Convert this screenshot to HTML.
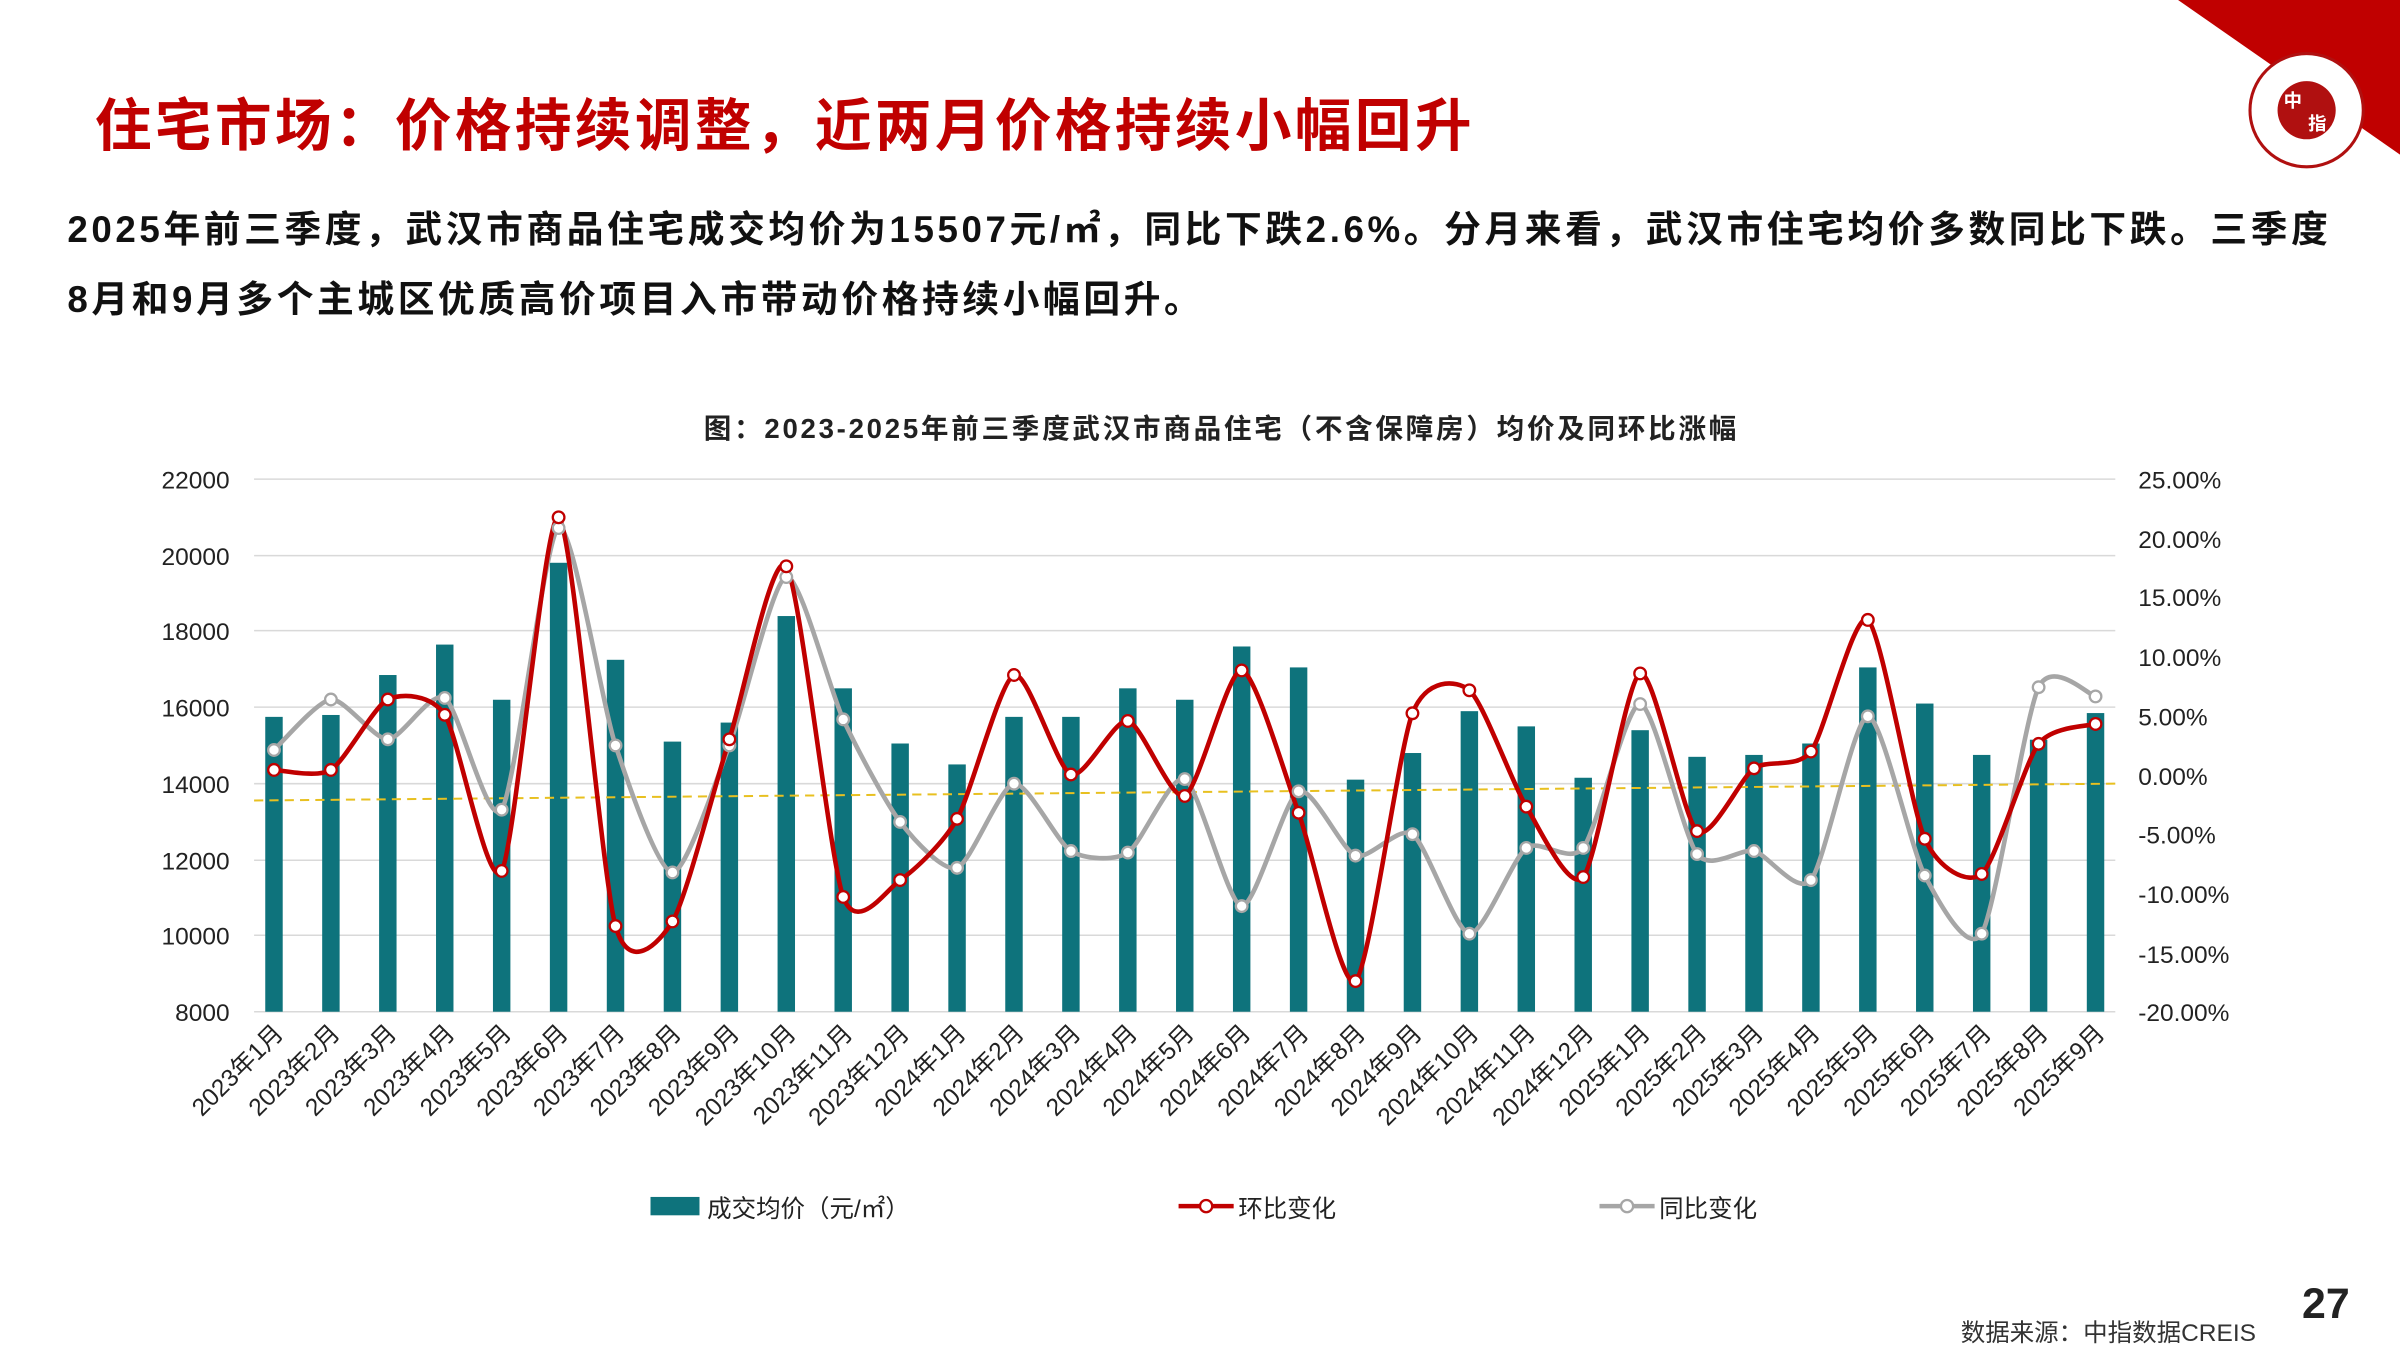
<!DOCTYPE html>
<html><head><meta charset="utf-8"><style>
html,body{margin:0;padding:0;background:#fff;overflow:hidden;}
#w{width:1568px;height:882px;position:relative;transform:scale(1.530612);transform-origin:0 0;font-family:"Liberation Sans","Noto Sans CJK SC",sans-serif;}
.t{position:absolute;white-space:nowrap;}
</style></head><body><div id="w">
<svg width="1568" height="882" style="position:absolute;left:0;top:0" font-family="Liberation Sans, Noto Sans CJK SC, sans-serif">
<polygon points="1423,0 1568,0 1568,101" fill="#c00000"/>
<circle cx="1507" cy="72" r="37" fill="#fff" stroke="#b01010" stroke-width="2"/>
<circle cx="1507" cy="72" r="19" fill="#b01010"/>
<text x="1498" y="70" font-size="12" fill="#fff" text-anchor="middle" font-weight="bold">中</text>
<text x="1514" y="85" font-size="12" fill="#fff" text-anchor="middle" font-weight="bold">指</text>
<g stroke="#d9d9d9" stroke-width="1">
<line x1="166" y1="313" x2="1382" y2="313"/><line x1="166" y1="363" x2="1382" y2="363"/>
<line x1="166" y1="412" x2="1382" y2="412"/><line x1="166" y1="462" x2="1382" y2="462"/>
<line x1="166" y1="512" x2="1382" y2="512"/><line x1="166" y1="562" x2="1382" y2="562"/>
<line x1="166" y1="611" x2="1382" y2="611"/><line x1="166" y1="661" x2="1382" y2="661"/>
</g>
<g font-size="16" fill="#222" text-anchor="end">
<text x="150" y="319">22000</text><text x="150" y="369">20000</text><text x="150" y="418">18000</text>
<text x="150" y="468">16000</text><text x="150" y="518">14000</text><text x="150" y="568">12000</text>
<text x="150" y="617">10000</text><text x="150" y="667">8000</text>
</g>
<g font-size="16" fill="#222">
<text x="1397" y="319">25.00%</text><text x="1397" y="358">20.00%</text><text x="1397" y="396">15.00%</text>
<text x="1397" y="435">10.00%</text><text x="1397" y="474">5.00%</text><text x="1397" y="513">0.00%</text>
<text x="1397" y="551">-5.00%</text><text x="1397" y="590">-10.00%</text><text x="1397" y="629">-15.00%</text>
<text x="1397" y="667">-20.00%</text>
</g>
<g id="bars" fill="#0e737c"></g>
<line x1="166" y1="523" x2="1382" y2="512" stroke="#e8c020" stroke-width="1.3" stroke-dasharray="6,4"/>
<path id="gp" fill="none" stroke="#a6a6a6" stroke-width="3"/>
<path id="rp" fill="none" stroke="#c00000" stroke-width="3"/>
<g id="gm" fill="#fff" stroke="#a6a6a6" stroke-width="1.5"></g>
<g id="rm" fill="#fff" stroke="#c00000" stroke-width="1.5"></g>
<g font-size="16" fill="#222" text-anchor="end" id="xl">
<text transform="translate(186,676) rotate(-45)">2023年1月</text>
<text transform="translate(223,676) rotate(-45)">2023年2月</text>
<text transform="translate(260,676) rotate(-45)">2023年3月</text>
<text transform="translate(298,676) rotate(-45)">2023年4月</text>
<text transform="translate(335,676) rotate(-45)">2023年5月</text>
<text transform="translate(372,676) rotate(-45)">2023年6月</text>
<text transform="translate(409,676) rotate(-45)">2023年7月</text>
<text transform="translate(446,676) rotate(-45)">2023年8月</text>
<text transform="translate(484,676) rotate(-45)">2023年9月</text>
<text transform="translate(521,676) rotate(-45)">2023年10月</text>
<text transform="translate(558,676) rotate(-45)">2023年11月</text>
<text transform="translate(595,676) rotate(-45)">2023年12月</text>
<text transform="translate(632,676) rotate(-45)">2024年1月</text>
<text transform="translate(670,676) rotate(-45)">2024年2月</text>
<text transform="translate(707,676) rotate(-45)">2024年3月</text>
<text transform="translate(744,676) rotate(-45)">2024年4月</text>
<text transform="translate(781,676) rotate(-45)">2024年5月</text>
<text transform="translate(818,676) rotate(-45)">2024年6月</text>
<text transform="translate(856,676) rotate(-45)">2024年7月</text>
<text transform="translate(893,676) rotate(-45)">2024年8月</text>
<text transform="translate(930,676) rotate(-45)">2024年9月</text>
<text transform="translate(967,676) rotate(-45)">2024年10月</text>
<text transform="translate(1004,676) rotate(-45)">2024年11月</text>
<text transform="translate(1042,676) rotate(-45)">2024年12月</text>
<text transform="translate(1079,676) rotate(-45)">2025年1月</text>
<text transform="translate(1116,676) rotate(-45)">2025年2月</text>
<text transform="translate(1153,676) rotate(-45)">2025年3月</text>
<text transform="translate(1190,676) rotate(-45)">2025年4月</text>
<text transform="translate(1228,676) rotate(-45)">2025年5月</text>
<text transform="translate(1265,676) rotate(-45)">2025年6月</text>
<text transform="translate(1302,676) rotate(-45)">2025年7月</text>
<text transform="translate(1339,676) rotate(-45)">2025年8月</text>
<text transform="translate(1376,676) rotate(-45)">2025年9月</text>
</g>
<rect x="425" y="782" width="32" height="12" fill="#0e737c"/>
<text x="462" y="795" font-size="16" fill="#222">成交均价（元/㎡）</text>
<line x1="770" y1="788" x2="806" y2="788" stroke="#c00000" stroke-width="3"/><circle cx="788" cy="788" r="4" fill="#fff" stroke="#c00000" stroke-width="1.5"/>
<text x="809" y="795" font-size="16" fill="#222">环比变化</text>
<line x1="1045" y1="788" x2="1081" y2="788" stroke="#a6a6a6" stroke-width="3"/><circle cx="1063" cy="788" r="4" fill="#fff" stroke="#a6a6a6" stroke-width="1.5"/>
<text x="1084" y="795" font-size="16" fill="#222">同比变化</text>
<text x="798" y="286" font-size="18" font-weight="bold" fill="#222" text-anchor="middle" letter-spacing="1.8">图：2023-2025年前三季度武汉市商品住宅（不含保障房）均价及同环比涨幅</text>
</svg>
<div class="t" style="left:62px;top:52px;font-size:37px;font-weight:bold;color:#c00000;letter-spacing:2.2px;">住宅市场：价格持续调整，近两月价格持续小幅回升</div>
<div class="t" style="left:44px;top:128px;font-size:24px;font-weight:bold;color:#111;line-height:46px;letter-spacing:2.35px;">2025年前三季度，武汉市商品住宅成交均价为15507元/㎡，同比下跌2.6%。分月来看，武汉市住宅均价多数同比下跌。三季度<br>8月和9月多个主城区优质高价项目入市带动价格持续小幅回升。</div>
<div class="t" style="left:1281px;top:857px;font-size:16px;color:#333;">数据来源：中指数据CREIS</div>
<div class="t" style="left:1504px;top:836px;font-size:28px;font-weight:bold;color:#222;">27</div>
</div>
<script>
var bv=[15750,15800,16850,17650,16200,19800,17250,15100,15600,18400,16500,15050,14500,15750,15750,16500,16200,17600,17050,14100,14800,15900,15500,14150,15400,14700,14750,15050,17050,16100,14750,15150,15850];
var ry=[503,503,457,467,569,338,605,602,483,370,586,575,535,441,506,471,520,438,531,641,466,451,527,573,440,543,502,491,405,548,571,486,473];
var gy=[490,457,483,456,529,345,487,570,487,377,470,537,567,512,556,557,509,592,517,559,545,610,554,554,460,558,556,575,468,572,610,449,455];
var ns="http://www.w3.org/2000/svg";
function X(i){return 179+i*37.19;}
function Y(v){return 661-(v-8000)*348/14000;}
var b=document.getElementById('bars');
bv.forEach(function(v,i){var r=document.createElementNS(ns,'rect');r.setAttribute('x',X(i)-5.7);r.setAttribute('y',Y(v));r.setAttribute('width',11.4);r.setAttribute('height',661-Y(v));b.appendChild(r);});
function path(ys){var p=ys.map(function(y,i){return [X(i),y];});var d='M'+p[0][0]+','+p[0][1];
for(var i=0;i<p.length-1;i++){var p0=p[i-1]||p[i],p1=p[i],p2=p[i+1],p3=p[i+2]||p2;var t=0.12;
d+=' C'+(p1[0]+(p2[0]-p0[0])*t)+','+(p1[1]+(p2[1]-p0[1])*t)+' '+(p2[0]-(p3[0]-p1[0])*t)+','+(p2[1]-(p3[1]-p1[1])*t)+' '+p2[0]+','+p2[1];}return d;}
document.getElementById('rp').setAttribute('d',path(ry));
document.getElementById('gp').setAttribute('d',path(gy));
function mk(id,ys){var g=document.getElementById(id);ys.forEach(function(y,i){var c=document.createElementNS(ns,'circle');c.setAttribute('cx',X(i));c.setAttribute('cy',y);c.setAttribute('r',3.8);g.appendChild(c);});}
mk('gm',gy);mk('rm',ry);
</script>
</body></html>
